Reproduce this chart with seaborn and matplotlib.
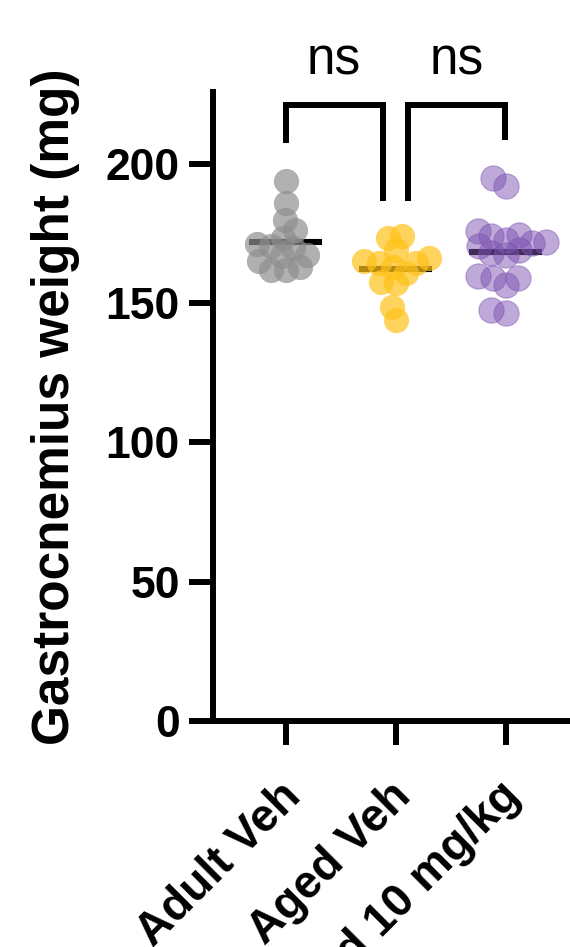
import numpy as np
import pandas as pd
import matplotlib
matplotlib.use("Agg")
import matplotlib.pyplot as plt
import matplotlib.transforms as mtransforms
import seaborn as sns

# Gastrocnemius weights (mg) per animal
groups = ["Adult Veh", "Aged Veh", "Aged Treated 10 mg/kg"]
adult_veh = [193.6, 186.0, 179.9, 176.3, 173.4, 171.0, 170.3, 169.8,
             167.3, 166.7, 165.0, 163.0, 161.9, 161.9]
aged_veh = [173.9, 173.3, 169.1, 166.0, 164.9, 164.3, 164.3, 163.0,
            160.7, 157.7, 157.1, 148.7, 143.9]
aged_treated = [194.8, 192.1, 176.0, 174.5, 173.9, 172.7, 171.7, 171.5,
                170.5, 169.1, 167.9, 167.3, 159.5, 158.9, 158.9, 156.5,
                147.5, 146.3]
yticks = [0, 50, 100, 150, 200]
comparisons = [("ns", 0, 1), ("ns", 1, 2)]

colors = ["#8f8f8f", "#ffc21a", "#7e55b3"]
alphas = [0.7, 0.7, 0.5]

df = pd.DataFrame({
    "group": np.repeat(groups, [len(adult_veh), len(aged_veh), len(aged_treated)]),
    "weight": adult_veh + aged_veh + aged_treated,
})

sns.set_style("ticks", {"axes.edgecolor": "black", "text.color": "black",
                        "xtick.color": "black", "ytick.color": "black",
                        "axes.labelcolor": "black"})
plt.rcParams["font.family"] = ["Liberation Sans", "DejaVu Sans"]

W, H = 570, 947
fig = plt.figure(figsize=(W / 100, H / 100), dpi=100)
ax = fig.add_axes([213 / W, 1 - 721 / H, (W - 213) / W, (721 - 92) / H])

sns.swarmplot(data=df, x="group", y="weight", hue="group", order=groups,
              hue_order=groups, palette=colors, size=10, linewidth=0,
              legend=False, ax=ax, zorder=3)

ax.set_xlim(-0.659, 2.586)
ax.set_ylim(0, 225.7)

# lay out the swarm once, then freeze it and enlarge the markers
fig.canvas.draw()
for coll, c, a in zip(ax.collections, colors, alphas):
    if "draw" in coll.__dict__:
        del coll.draw
    coll.set_sizes([330])
    coll.set_facecolor(c)
    coll.set_alpha(a)
    if c == colors[2]:
        coll.set_edgecolor(c)
        coll.set_linewidth(0.8)

# group means
for i, vals in enumerate([adult_veh, aged_veh, aged_treated]):
    ax.hlines(np.mean(vals), i - 0.33, i + 0.33, color="black", lw=4.4, zorder=2)

# significance brackets
lw = 4.3
top = 221.2
for (lab, a, b), (xa, xb, ya, yb) in zip(
        comparisons, [(0, 0.886, 207.5, 186.5), (1.114, 1.993, 186.5, 208.5)]):
    ax.plot([xa, xa, xb, xb], [ya, top, top, yb], color="black", lw=lw,
            solid_capstyle="butt", solid_joinstyle="miter", clip_on=False)
    ax.text((xa + xb) / 2, 231.8, lab, ha="center", va="baseline",
            fontsize=37, color="black", clip_on=False)

for s in ["top", "right"]:
    ax.spines[s].set_visible(False)
for s in ["left", "bottom"]:
    ax.spines[s].set_linewidth(lw)
    ax.spines[s].set_color("black")

ax.set_yticks(yticks)
ax.set_yticklabels([str(t) for t in yticks], fontsize=32, fontweight="bold")
ax.tick_params(axis="y", length=17, width=lw, pad=7, colors="black")
ax.tick_params(axis="x", length=17.5, width=lw, pad=4, colors="black")
ax.set_xticks(range(len(groups)))
ax.set_xticklabels(groups, fontsize=33, fontweight="bold", rotation=45,
                   ha="right", va="top", rotation_mode="anchor")
shift = mtransforms.ScaledTranslation(-7 / 100, -23 / 100, fig.dpi_scale_trans)
for t in ax.get_xticklabels():
    t.set_transform(t.get_transform() + shift)

ax.set_xlabel("")
ax.set_ylabel("Gastrocnemius weight (mg)", fontsize=37, fontweight="bold",
              labelpad=18, color="black")

fig.savefig("out.png", dpi=100)
